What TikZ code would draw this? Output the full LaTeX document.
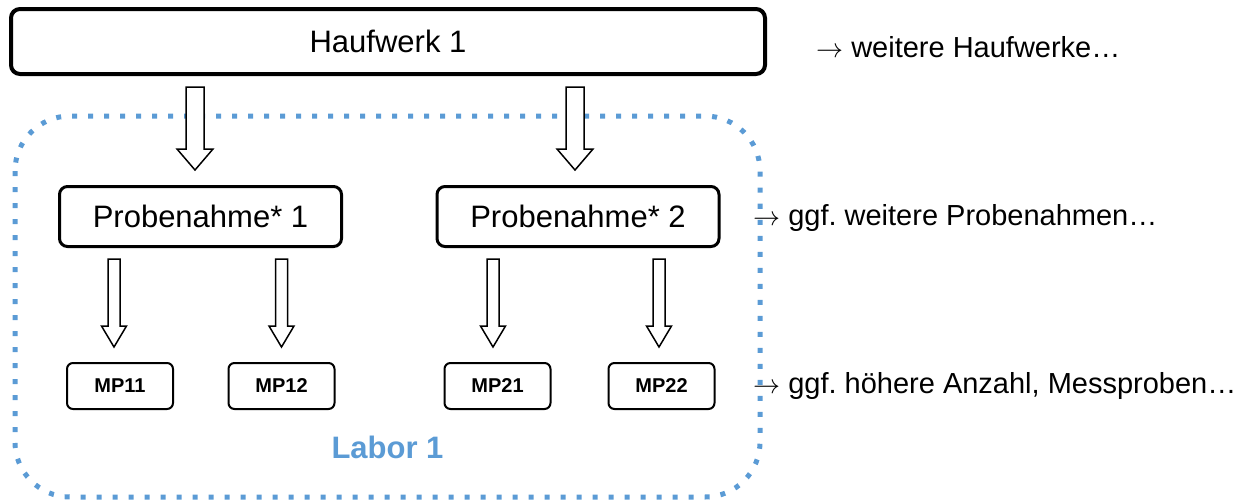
\documentclass[tikz,border=0pt]{standalone}
\usepackage{fontspec}
\setmainfont{Liberation Sans}
\usepackage{graphicx}
\usepackage{xcolor}
\usetikzlibrary{calc}
\frenchspacing

\definecolor{laborblau}{HTML}{5B9BD5}
\newcommand{\weiter}{\resizebox{27pt}{!}{$\rightarrow$}}

\tikzset{
  haufwerk/.style={draw, line width=4pt, rounded corners=9pt, minimum width=754pt, minimum height=65pt, inner sep=0pt, font=\fontsize{31}{37}\selectfont},
  probe/.style={draw, line width=3pt, rounded corners=8pt, minimum width=282pt, minimum height=60pt, inner sep=0pt, font=\fontsize{31}{37}\selectfont},
  messprobe/.style={draw, line width=2pt, rounded corners=6pt, minimum width=106pt, minimum height=46pt, inner sep=0pt, font=\bfseries\fontsize{20}{24}\selectfont},
  hinweis/.style={anchor=base west, inner sep=0pt, font=\fontsize{29}{35}\selectfont},
  laborlabel/.style={anchor=base, inner sep=0pt, text=laborblau, font=\bfseries\fontsize{31}{37}\selectfont},
  laborrahmen/.style={draw=laborblau, line width=5pt, dash pattern=on 5pt off 11pt, rounded corners=55pt},
  pfeil/.style={draw, line width=1.5pt, fill=white, line join=miter}
}

% #1 von, #2 nach, #3 Versatz, #4 halber Schaft, #5 halbe Spitze
\newcommand{\hohlpfeil}[5]{
  \draw[pfeil] let \p1=(#1.south), \p2=(#2.north) in
    ({\x2+(#3pt)-#4pt}, {\y1-11pt}) -- ({\x2+(#3pt)+#4pt}, {\y1-11pt})
    -- ({\x2+(#3pt)+#4pt}, {\y2+36pt}) -- ({\x2+(#3pt)+#5pt}, {\y2+36pt})
    -- ({\x2+(#3pt)}, {\y2+15pt})
    -- ({\x2+(#3pt)-#5pt}, {\y2+36pt}) -- ({\x2+(#3pt)-#4pt}, {\y2+36pt}) -- cycle;
}

\begin{document}
\begin{tikzpicture}[x=1pt, y=-1pt]
  \useasboundingbox (0,0) rectangle (1249,499);

  \draw[laborrahmen] (15,116) rectangle (760,497);

  \node[haufwerk] (hw) at (388,41.5) {Haufwerk 1};
  \node[probe] (p1) at (200.5,216.5) {Probenahme* 1};
  \node[probe] (p2) at (578,216.5) {Probenahme* 2};

  \foreach \i/\j/\x in {1/1/120, 1/2/281.5, 2/1/497.5, 2/2/661.5}
    \node[messprobe] (mp\i\j) at (\x,386) {MP\i\j};

  \hohlpfeil{hw}{p1}{-5.5}{9}{18}
  \hohlpfeil{hw}{p2}{-3}{9}{18}
  \hohlpfeil{p1}{mp11}{-6}{6}{12.5}
  \hohlpfeil{p1}{mp12}{0}{6}{12.5}
  \hohlpfeil{p2}{mp21}{-4.5}{6}{12.5}
  \hohlpfeil{p2}{mp22}{-2.5}{6}{12.5}

  \node[laborlabel] (labor) at (387.5,458) {Labor 1};

  \node[hinweis] (mehrhw) at (816,57) {\weiter{} weitere Haufwerke…};
  \node[hinweis] (mehrpn) at (753,225) {\weiter{} ggf. weitere Probenahmen…};
  \node[hinweis] (mehrmp) at (753,393) {\weiter{} ggf. höhere Anzahl, Messproben…};
\end{tikzpicture}
\end{document}
